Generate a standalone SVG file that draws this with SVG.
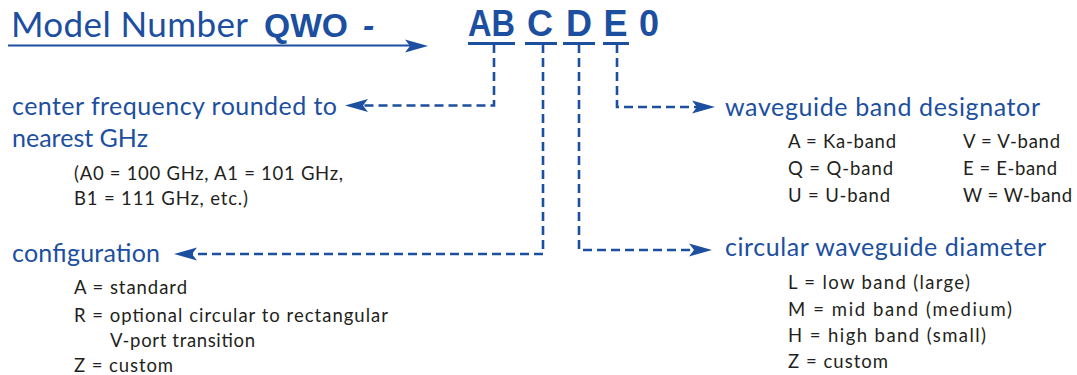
<svg xmlns="http://www.w3.org/2000/svg" width="1077" height="375" viewBox="0 0 1077 375">
<style>
.h{font-family:Lato,"Open Sans","DejaVu Sans",sans-serif;font-size:25px;fill:#1c4f9f}
.t{font-family:Lato,"Open Sans","DejaVu Sans",sans-serif;font-size:35px;fill:#1c4f9f}
.b{font-family:Lato,"Open Sans","DejaVu Sans",sans-serif;font-size:18.5px;fill:#231f20}
.k{font-family:"Liberation Sans",Arial,sans-serif;font-weight:bold;font-size:36px;fill:#1c4f9f;text-anchor:middle}
.q{font-family:"Liberation Sans",Arial,sans-serif;font-weight:bold;font-size:34px;fill:#1c4f9f}
.ul{stroke:#1c4f9f;stroke-width:3;fill:none}
.dash{stroke:#1c4f9f;stroke-width:2.6;fill:none;stroke-dasharray:9 5;marker-end:url(#ah)}
</style>
<defs>
<marker id="ah" viewBox="-6 -8 26 16" refX="0" refY="0" markerWidth="26" markerHeight="16" markerUnits="userSpaceOnUse" orient="auto">
<path d="M18,0 L-5,-6.5 L0,0 L-5,6.5 Z" fill="#1c4f9f"/>
</marker>
</defs>
<rect width="1077" height="375" fill="#ffffff"/>
<g id="title">
<text class="t" x="11" y="37" textLength="237" lengthAdjust="spacing">Model Number</text>
<text class="q" x="264" y="37" textLength="84" lengthAdjust="spacingAndGlyphs">QWO</text>
<text class="q" x="363" y="37" font-style="italic">-</text>
<line x1="8" y1="45.5" x2="412" y2="45.5" stroke="#1c4f9f" stroke-width="2.2"/>
<path d="M428,46 L405,39.5 L410,46 L405,52.5 Z" fill="#1c4f9f"/>
</g>
<g id="code">
<text class="k" x="491.5" y="35.5" textLength="47" lengthAdjust="spacingAndGlyphs">AB</text>
<text class="k" x="540" y="35.5">C</text>
<text class="k" x="579" y="35.5">D</text>
<text class="k" x="615.5" y="35.5">E</text>
<text class="k" x="649" y="35.5">0</text>
<line class="ul" x1="468" y1="43.5" x2="515" y2="43.5"/>
<line class="ul" x1="525" y1="43.5" x2="557" y2="43.5"/>
<line class="ul" x1="563" y1="43.5" x2="595" y2="43.5"/>
<line class="ul" x1="603" y1="43.5" x2="629" y2="43.5"/>
</g>
<g id="connectors">
<path class="dash" d="M494,44 V105.5 H363"/>
<path class="dash" d="M543,44 V254 H192"/>
<path class="dash" d="M579,44 V250 H694"/>
<path class="dash" d="M617,44 V107 H697"/>
</g>
<g id="frequency">
<text class="h" x="12" y="115" textLength="325" lengthAdjust="spacing">center frequency rounded to</text>
<text class="h" x="12" y="147" textLength="136" lengthAdjust="spacing">nearest GHz</text>
<text class="b" x="74" y="180" textLength="269" lengthAdjust="spacing">(A0 = 100 GHz, A1 = 101 GHz,</text>
<text class="b" x="74" y="205" textLength="174" lengthAdjust="spacing">B1 = 111 GHz, etc.)</text>
</g>
<g id="configuration">
<text class="h" x="12" y="261.5" textLength="148" lengthAdjust="spacing">configuration</text>
<text class="b" x="74" y="294" textLength="113" lengthAdjust="spacing">A = standard</text>
<text class="b" x="74" y="321.5" textLength="314" lengthAdjust="spacing">R = optional circular to rectangular</text>
<text class="b" x="110" y="347" textLength="145" lengthAdjust="spacing">V-port transition</text>
<text class="b" x="74" y="371.5" textLength="99" lengthAdjust="spacing">Z = custom</text>
</g>
<g id="band">
<text class="h" x="725" y="115.5" textLength="315" lengthAdjust="spacing">waveguide band designator</text>
<text class="b" x="788" y="148" textLength="108" lengthAdjust="spacing">A = Ka-band</text>
<text class="b" x="788" y="175" textLength="105" lengthAdjust="spacing">Q = Q-band</text>
<text class="b" x="788" y="201.5" textLength="102" lengthAdjust="spacing">U = U-band</text>
<text class="b" x="963" y="148" textLength="97" lengthAdjust="spacing">V = V-band</text>
<text class="b" x="963" y="175" textLength="94" lengthAdjust="spacing">E = E-band</text>
<text class="b" x="963" y="201.5" textLength="109" lengthAdjust="spacing">W = W-band</text>
</g>
<g id="diameter">
<text class="h" x="725" y="255.5" textLength="321" lengthAdjust="spacing">circular waveguide diameter</text>
<text class="b" x="788" y="289" textLength="182" lengthAdjust="spacing">L = low band (large)</text>
<text class="b" x="788" y="315.5" textLength="224" lengthAdjust="spacing">M = mid band (medium)</text>
<text class="b" x="788" y="342" textLength="198" lengthAdjust="spacing">H = high band (small)</text>
<text class="b" x="788" y="367.5" textLength="100" lengthAdjust="spacing">Z = custom</text>
</g>
</svg>
